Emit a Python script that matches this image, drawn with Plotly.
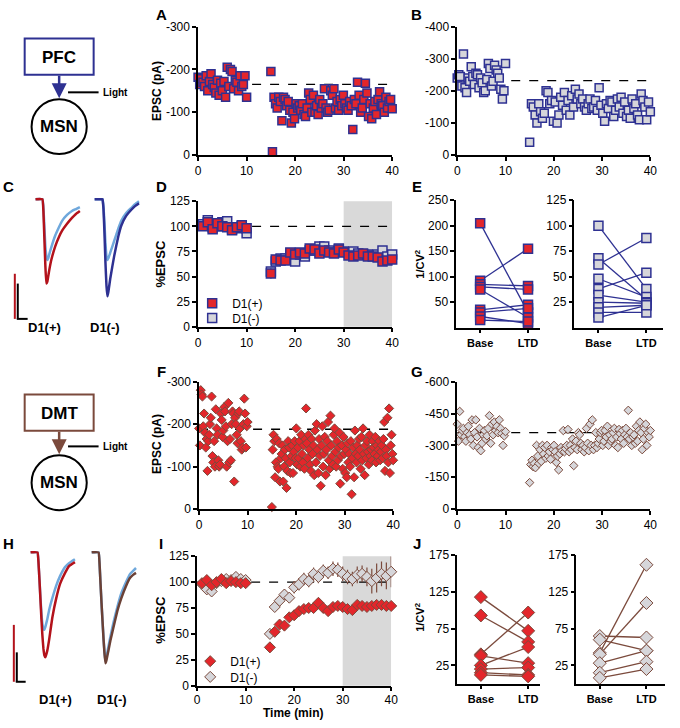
import plotly.graph_objects as go

W, H = 680, 728
RED = "#e3262b"
NAVY = "#2e3192"
GRAYF = "#d6d6da"
BROWN = "#7b4a3c"
TRACE_RED = "#b3121b"
TRACE_LB = "#6fa8dc"
TRACE_NAVY = "#2e3192"
TRACE_BROWN = "#6b4136"
FONT = "Liberation Sans, Arial, sans-serif"

# ---------------- data ----------------
A_BASE = [-182, -165, -178, -170, -160, -185, -150, -172, -190, -165, -158, -145, -175, -140, -168, -150,
          -172, -135, -205, -160, -200, -195, -155, -175, -170, -150, -185, -160, -165, -185, -135]
A_POST = [-195, -8, -135, -120, -110, -135, -125, -80, -135, -130, -115, -125, -105, -75, -100, -85, -120,
          -110, -115, -105, -120, -95, -90, -110, -145, -130, -100, -140, -100, -115, -95, -130, -110, -120,
          -155, -110, -100, -105, -150, -140, -155, -110, -125, -105, -130, -115, -140, -120, -110, -105,
          -125, -115, -60, -130, -120, -170, -140, -100, -110, -130, -168, -145, -90, -120, -85, -110, -125,
          -95, -130, -148, -120, -115, -100, -135, -110, -125, -130, -108]
A_LEVEL = -165

B_BASE = [-240, -250, -245, -215, -315, -210, -195, -240, -230, -275, -245, -220, -255, -250, -210, -240,
          -225, -195, -200, -235, -285, -270, -215, -230, -280, -265, -255, -240, -205, -175, -200, -285]
B_POST = [-40, -160, -150, -125, -100, -160, -135, -115, -130, -200, -195, -160, -170, -105, -165, -100,
          -125, -180, -155, -195, -140, -170, -125, -185, -150, -205, -175, -190, -160, -175, -150, -140,
          -160, -175, -145, -150, -170, -140, -210, -155, -130, -105, -160, -145, -170, -165, -120, -140,
          -175, -150, -180, -130, -165, -120, -140, -115, -175, -145, -160, -125, -110, -190, -170, -150,
          -110, -165, -135]
B_LEVEL = -232

BIN_BASE = [1, 2, 3, 4, 5, 6, 7, 8, 9, 10]
BIN_POST = [15, 16, 17, 18, 19, 20, 21, 22, 23, 24, 25, 26, 27, 28, 29, 30, 31, 32, 33, 34, 35, 36, 37, 38, 39, 40]

D_POS_BASE = [100, 104, 97, 103, 100, 99, 96, 99, 101, 98]
D_POS_BASE_ERR = [3, 3, 3, 3, 2, 2, 3, 2, 3, 3]
D_POS_POST = [53, 67, 66, 66, 74, 72, 74, 73, 78, 77, 73, 76, 74, 73, 77, 74, 71, 70, 71, 73, 70, 70, 69, 65, 66, 67]
D_POS_POST_ERR = [5, 5, 5, 4, 4, 4, 4, 4, 4, 4, 4, 4, 4, 4, 4, 4, 4, 4, 4, 4, 4, 4, 4, 4, 4, 4]
D_NEG_BASE = [102, 106, 99, 100, 104, 105, 97, 98, 100, 93]
D_NEG_BASE_ERR = [3, 3, 3, 3, 3, 3, 3, 3, 3, 3]
D_NEG_POST = [55, 65, 68, 68, 70, 65, 72, 70, 76, 76, 80, 80, 76, 74, 78, 75, 74, 75, 73, 72, 72, 71, 72, 76, 70, 72]
D_NEG_POST_ERR = [4, 4, 4, 4, 4, 4, 4, 4, 4, 4, 4, 4, 4, 4, 4, 4, 4, 4, 4, 4, 4, 4, 4, 4, 4, 4]

E_POS_BASE = [205, 92, 85, 80, 75, 35, 30, 22, 15]
E_POS_LTD = [30, 155, 82, 75, 20, 45, 38, 8, 12]
E_NEG_BASE = [100, 68, 62, 48, 38, 32, 25, 20, 15, 10]
E_NEG_LTD = [38, 28, 88, 30, 54, 25, 24, 22, 15, 22]
CATS = ["Base", "LTD"]

F_BASE = [-190, -150, -280, -270, -265, -195, -225, -180, -145, -165, -90, -160, -175, -200, -215, -265,
          -125, -110, -160, -100, -235, -190, -175, -115, -100, -105, -225, -210, -170, -185, -240, -230,
          -195, -100, -160, -250, -110, -165, -115, -200, -230, -225, -65, -215, -200, -175, -155, -225,
          -230, -190, -160, -140, -145, -200, -260, -225, -145, -195, -205]
F_POST = [-5, -140, -175, -160, -75, -110, -165, -100, -95, -155, -65, -120, -130, -150, -65, -100, -140,
          -120, -50, -90, -160, -145, -110, -85, -125, -150, -85, -135, -160, -120, -190, -105, -145, -120,
          -160, -100, -175, -130, -110, -150, -95, -165, -237, -155, -120, -175, -140, -105, -90, -165,
          -130, -150, -80, -185, -110, -200, -140, -85, -165, -125, -55, -150, -195, -100, -130, -170, -80,
          -140, -160, -205, -115, -95, -220, -150, -125, -105, -175, -190, -135, -100, -160, -115, -145,
          -180, -60, -125, -150, -95, -170, -130, -85, -140, -75, -155, -110, -130, -100, -160, -35, -120,
          -145, -75, -185, -130, -110, -150, -125, -165, -140, -95, -170, -115, -190, -130, -80, -150, -120,
          -160, -135, -105, -175, -125, -140, -115, -160, -145, -130, -170, -110, -150, -125, -140, -160,
          -115, -135, -150, -120, -165, -205, -90, -140, -125, -215, -110, -237, -85, -150, -175, -130, -115]
F_LEVEL = -188

G_BASE = [-400, -320, -460, -350, -370, -380, -340, -320, -360, -390, -350, -330, -420, -300, -360, -420,
          -340, -290, -380, -275, -310, -350, -370, -330, -345, -380, -440, -310, -400, -350, -410, -370,
          -390, -360, -420, -380, -355, -300, -345, -365]
G_POST = [-125, -210, -230, -200, -215, -195, -300, -250, -215, -280, -225, -300, -260, -290, -240, -300,
          -250, -270, -235, -290, -280, -300, -270, -220, -250, -185, -260, -290, -275, -370, -270, -285,
          -300, -375, -270, -300, -280, -330, -205, -290, -320, -280, -360, -350, -310, -280, -300, -270,
          -290, -380, -310, -275, -400, -300, -420, -280, -300, -360, -290, -310, -330, -360, -370, -300,
          -320, -370, -340, -390, -300, -350, -320, -330, -360, -380, -300, -340, -290, -375, -355, -330,
          -370, -310, -350, -380, -340, -465, -330, -360, -300, -340, -350, -310, -390, -320, -370, -410,
          -360, -280, -330, -380, -400, -300, -360, -340, -370]
G_LEVEL = -360

I_POS_BASE = [99, 102, 97, 100, 103, 99, 101, 100, 99, 99]
I_POS_BASE_ERR = [3, 3, 3, 3, 3, 3, 3, 3, 3, 3]
I_POS_POST = [37, 52, 59, 58, 66, 68, 72, 74, 75, 75, 80, 75, 72, 76, 77, 76, 74, 73, 78, 77, 76, 77, 78, 78, 77, 77]
I_POS_POST_ERR = [3, 3, 4, 4, 4, 4, 4, 4, 4, 4, 4, 4, 4, 4, 4, 4, 4, 4, 4, 4, 4, 4, 4, 4, 4, 4]
I_NEG_BASE = [98, 93, 91, 99, 101, 103, 102, 105, 103, 102]
I_NEG_BASE_ERR = [3, 4, 4, 3, 3, 3, 3, 3, 3, 3]
I_NEG_POST = [50, 76, 82, 88, 85, 95, 98, 103, 101, 108, 105, 111, 109, 113, 112, 108, 105, 103, 107, 108, 105, 101, 104, 108, 106, 110]
I_NEG_POST_ERR = [3, 4, 5, 5, 5, 6, 6, 6, 6, 6, 6, 6, 6, 7, 7, 7, 7, 7, 8, 8, 9, 12, 14, 12, 13, 15]

J_POS_BASE = [118, 93, 40, 38, 25, 20, 15, 12]
J_POS_LTD = [72, 57, 97, 28, 50, 22, 12, 10]
J_NEG_BASE = [65, 60, 42, 40, 28, 15, 8]
J_NEG_LTD = [63, 45, 162, 110, 45, 30, 20]

# example traces (time in ms, amplitude in pA)
C_T = [0, 7, 8, 9, 10, 11, 12, 13, 14, 16, 20, 24, 27, 32, 37, 41, 45]
C_POS_BASE = [0, 0, -12, -40, -68, -86, -84, -78, -72, -62, -48, -38, -32, -25, -19, -15, -12]
C_POS_LTD = [0, 0, -8, -28, -48, -58, -62, -60, -56, -49, -37, -28, -22, -16, -12, -10, -8]
C_NEG_BASE = [0, 0, 0, -10, -35, -65, -88, -99, -94, -80, -57, -38, -27, -17, -11, -7, -4]
C_NEG_LTD = [0, 0, 0, -8, -25, -45, -58, -62, -60, -54, -42, -30, -22, -14, -9, -5, -2]
H_T = [0, 7, 8, 9, 10, 11, 12, 13, 14, 15, 17, 19, 22, 26, 30, 35, 39, 42, 45]
H_POS_BASE = [0, 0, -10, -28, -48, -68, -85, -98, -105, -107, -100, -88, -67, -47, -32, -21, -14, -12, -10]
H_POS_LTD = [0, 0, -10, -28, -46, -62, -73, -78, -79, -76, -68, -58, -47, -34, -24, -15, -11, -9, -7]
H_NEG_BASE = [0, 0, -12, -32, -52, -70, -88, -103, -113, -110, -100, -90, -77, -60, -47, -34, -26, -23, -21]
H_NEG_LTD = [0, 0, -12, -32, -52, -70, -87, -102, -111, -107, -96, -86, -72, -56, -42, -30, -22, -19, -16]


def spread(vals, t0, t1):
    n = len(vals)
    return [t0 + (t1 - t0) * i / (n - 1) for i in range(n)]


def xd(a, b):
    return [a / W, b / W]


def yd(a, b):
    return [1 - b / H, 1 - a / H]


def px(x):
    return x / W


def py(y):
    return 1 - y / H


def axis(domain, rng, tickvals=None, ticktext=None, anchor=None, fsize=12):
    d = dict(domain=domain, range=rng, showline=True, linecolor="black", linewidth=1.5,
             ticks="outside", ticklen=4, tickwidth=1.5, tickcolor="black", showgrid=False,
             zeroline=False, anchor=anchor, fixedrange=True,
             tickfont=dict(size=fsize, family=FONT, color="black"))
    if tickvals is not None:
        d["tickvals"] = tickvals
        d["ticktext"] = ticktext if ticktext is not None else [str(v) for v in tickvals]
    return d


def hidden(domain, rng, anchor):
    return dict(domain=domain, range=rng, visible=False, anchor=anchor, fixedrange=True)


fig = go.Figure()

sq_red = dict(symbol="square", size=8, color=RED, line=dict(color=NAVY, width=1.5))
sq_gray = dict(symbol="square", size=8, color=GRAYF, line=dict(color=NAVY, width=1.5))
di_red = dict(symbol="diamond", size=7, color=RED, line=dict(color=BROWN, width=1))
di_gray = dict(symbol="diamond", size=7, color=GRAYF, line=dict(color=BROWN, width=1))


def scat(x, y, marker, xa, ya):
    fig.add_trace(go.Scatter(x=x, y=y, mode="markers", marker=marker, xaxis=xa, yaxis=ya,
                             cliponaxis=False, showlegend=False))


# A
scat(spread(A_BASE, 0, 10) + spread(A_POST, 15, 40), A_BASE + A_POST, sq_red, "x", "y")
# B
scat(spread(B_BASE, 0, 10) + spread(B_POST, 15, 40), B_BASE + B_POST, sq_gray, "x2", "y2")


def errtrace(x, y, e, marker, xa, ya, ecol, name, legend):
    fig.add_trace(go.Scatter(x=x, y=y, mode="markers", marker=marker, xaxis=xa, yaxis=ya,
                             error_y=dict(type="data", array=e, color=ecol, thickness=1.2, width=0),
                             cliponaxis=False, name=name, showlegend=True, legend=legend))


# D
sq_red_d = dict(sq_red, size=9)
sq_gray_d = dict(sq_gray, size=9)
errtrace(BIN_BASE + BIN_POST, D_NEG_BASE + D_NEG_POST, D_NEG_BASE_ERR + D_NEG_POST_ERR,
         sq_gray_d, "x3", "y3", "#333333", "D1(-)", "legend3")
errtrace(BIN_BASE + BIN_POST, D_POS_BASE + D_POS_POST, D_POS_BASE_ERR + D_POS_POST_ERR,
         sq_red_d, "x3", "y3", "#333333", "D1(+)", "legend")


def pairs(base, ltd, marker, lcol, xa, ya):
    xs, ys = [], []
    for b, l in zip(base, ltd):
        xs += [CATS[0], CATS[1], None]
        ys += [b, l, None]
    fig.add_trace(go.Scatter(x=xs, y=ys, mode="lines", line=dict(color=lcol, width=1.3),
                             xaxis=xa, yaxis=ya, showlegend=False, cliponaxis=False))
    fig.add_trace(go.Scatter(x=[CATS[0]] * len(base) + [CATS[1]] * len(ltd), y=base + ltd,
                             mode="markers", marker=marker, xaxis=xa, yaxis=ya,
                             showlegend=False, cliponaxis=False))


pairs(E_POS_BASE, E_POS_LTD, sq_red_d, NAVY, "x4", "y4")
pairs(E_NEG_BASE, E_NEG_LTD, sq_gray_d, NAVY, "x5", "y5")

# F, G
scat(spread(F_BASE, 0, 10) + spread(F_POST, 15, 40), F_BASE + F_POST, di_red, "x6", "y6")
scat(spread(G_BASE, 0, 10) + spread(G_POST, 15, 40), G_BASE + G_POST, dict(di_gray, size=6.5), "x7", "y7")

# I
di_red_i = dict(di_red, size=8.5)
di_gray_i = dict(di_gray, size=8.5)
errtrace(BIN_BASE + BIN_POST, I_NEG_BASE + I_NEG_POST, I_NEG_BASE_ERR + I_NEG_POST_ERR,
         di_gray_i, "x8", "y8", BROWN, "D1(-)", "legend4")
errtrace(BIN_BASE + BIN_POST, I_POS_BASE + I_POS_POST, I_POS_BASE_ERR + I_POS_POST_ERR,
         di_red_i, "x8", "y8", BROWN, "D1(+)", "legend2")

# J
di_red_j = dict(di_red, size=10)
di_gray_j = dict(di_gray, size=10)
pairs(J_POS_BASE, J_POS_LTD, di_red_j, BROWN, "x9", "y9")
pairs(J_NEG_BASE, J_NEG_LTD, di_gray_j, BROWN, "x10", "y10")


# example traces
def wave(t, v, off, col, xa, ya):
    fig.add_trace(go.Scatter(x=[ti + off for ti in t], y=v, mode="lines",
                             line=dict(color=col, width=2.5, shape="spline", smoothing=0.3),
                             xaxis=xa, yaxis=ya, showlegend=False, hoverinfo="skip"))


wave(C_T, C_POS_LTD, 0, TRACE_LB, "x11", "y11")
wave(C_T, C_POS_BASE, 0, TRACE_RED, "x11", "y11")
wave(C_T, C_NEG_LTD, 60, TRACE_LB, "x11", "y11")
wave(C_T, C_NEG_BASE, 60, TRACE_NAVY, "x11", "y11")
wave(H_T, H_POS_LTD, 0, TRACE_LB, "x12", "y12")
wave(H_T, H_POS_BASE, 0, TRACE_RED, "x12", "y12")
wave(H_T, H_NEG_LTD, 62, TRACE_LB, "x12", "y12")
wave(H_T, H_NEG_BASE, 62, TRACE_BROWN, "x12", "y12")

TV_T = [0, 10, 20, 30, 40]


def neg(vals):
    return [str(v) if v == 0 else "-" + str(-v) for v in vals]


def leg(x, y):
    return dict(x=px(x), y=py(y), xanchor="left", yanchor="middle", bgcolor="rgba(0,0,0,0)",
                font=dict(size=12, family=FONT, color="black"), itemwidth=30, borderwidth=0)


xaxis8 = axis(xd(197, 394), [0, 40], TV_T, anchor="y8")
xaxis8["ticklabelstandoff"] = -2

lay = dict(
    width=W, height=H, margin=dict(l=0, r=0, t=0, b=0),
    paper_bgcolor="white", plot_bgcolor="rgba(0,0,0,0)",
    font=dict(family=FONT, color="black", size=12),
    xaxis=axis(xd(198, 395), [0, 40], TV_T, anchor="y"),
    yaxis=axis(yd(20, 151), [0, -300], [-300, -200, -100, 0], neg([-300, -200, -100, 0]), anchor="x"),
    xaxis2=axis(xd(461, 657), [0, 40], TV_T, anchor="y2"),
    yaxis2=axis(yd(20, 151), [0, -400], [-400, -300, -200, -100, 0], neg([-400, -300, -200, -100, 0]), anchor="x2"),
    xaxis3=axis(xd(198, 395), [0, 40], TV_T, anchor="y3"),
    yaxis3=axis(yd(198, 326), [0, 125], [0, 25, 50, 75, 100, 125], anchor="x3"),
    xaxis4=axis(xd(460, 545), [-0.5, 1.25], [0, 1], ["<b>Base</b>", "<b>LTD</b>"], anchor="y4", fsize=11),
    yaxis4=axis(yd(197, 327), [0, 250], [50, 100, 150, 200, 250], anchor="x4"),
    xaxis5=axis(xd(580, 670), [-0.5, 1.35], [0, 1], ["<b>Base</b>", "<b>LTD</b>"], anchor="y5", fsize=11),
    yaxis5=axis(yd(197, 327), [0, 125], [25, 50, 75, 100, 125], anchor="x5"),
    xaxis6=axis(xd(199, 396), [0, 40], TV_T, anchor="y6"),
    yaxis6=axis(yd(382, 512), [0, -300], [-300, -200, -100, 0], neg([-300, -200, -100, 0]), anchor="x6"),
    xaxis7=axis(xd(461, 657), [0, 40], TV_T, anchor="y7"),
    yaxis7=axis(yd(382, 512), [0, -600], [-600, -450, -300, -150, 0], neg([-600, -450, -300, -150, 0]), anchor="x7"),
    xaxis8=xaxis8,
    yaxis8=axis(yd(560, 692), [0, 125], [0, 25, 50, 75, 100, 125], anchor="x8"),
    xaxis9=axis(xd(461, 545), [-0.5, 1.25], [0, 1], ["<b>Base</b>", "<b>LTD</b>"], anchor="y9", fsize=11),
    yaxis9=axis(yd(559, 690), [0, 175], [25, 75, 125, 175], anchor="x9"),
    xaxis10=axis(xd(582, 672), [-0.5, 1.4], [0, 1], ["<b>Base</b>", "<b>LTD</b>"], anchor="y10", fsize=11),
    yaxis10=axis(yd(559, 690), [0, 175], [25, 75, 125, 175], anchor="x10"),
    xaxis11=hidden(xd(0, 140), [-33, 107], "y11"),
    yaxis11=hidden(yd(185, 320), [-124, 11], "x11"),
    xaxis12=hidden(xd(0, 140), [-28, 112], "y12"),
    yaxis12=hidden(yd(545, 700), [-144, 11], "x12"),
    legend=leg(192, 302),
    legend3=leg(192, 317),
    legend2=leg(190, 667),
    legend4=leg(190, 683),
)

shapes = []
for xa, ya in [("x3", "y3"), ("x8", "y8")]:
    shapes.append(dict(type="rect", xref=xa, yref=ya + " domain", x0=30, x1=40, y0=0, y1=1,
                       fillcolor="#d9d9d9", line=dict(width=0), layer="below"))
for xa, ya, lv in [("x", "y", A_LEVEL), ("x2", "y2", B_LEVEL), ("x3", "y3", 100), ("x6", "y6", F_LEVEL),
                   ("x7", "y7", G_LEVEL), ("x8", "y8", 100)]:
    shapes.append(dict(type="line", xref=xa, yref=ya, x0=0, x1=40, y0=lv, y1=lv,
                       line=dict(color="black", width=1.3, dash="dash"), layer="below"))


def pline(x0, y0, x1, y1, col, w):
    shapes.append(dict(type="line", xref="paper", yref="paper", x0=px(x0), x1=px(x1), y0=py(y0), y1=py(y1),
                       line=dict(color=col, width=w)))


for (top, bot, col, cy) in [(32, 69, NAVY, 122), (395, 432, BROWN, 485)]:
    shapes.append(dict(type="rect", xref="paper", yref="paper", x0=px(22), x1=px(92), y0=py(bot), y1=py(top),
                       line=dict(color=col, width=2)))
    shapes.append(dict(type="circle", xref="paper", yref="paper", x0=px(29), x1=px(85), y0=py(cy + 28),
                       y1=py(cy - 28), line=dict(color="black", width=2)))
pline(66, 87, 97, 87, "black", 2)
pline(66, 448, 97, 448, "black", 2)
pline(12, 272, 12, 318, TRACE_RED, 2)
pline(15, 282, 15, 318, "black", 2)
pline(14, 318, 25, 318, "black", 2)
pline(11, 630, 11, 688, TRACE_RED, 2)
pline(14, 658, 14, 688, "black", 2)
pline(13, 688, 23, 688, "black", 2)
lay["shapes"] = shapes

ann = []


def text(x, y, s, size=12, bold=True, angle=0, xanchor="center"):
    ann.append(dict(x=px(x), y=py(y), xref="paper", yref="paper", text=("<b>%s</b>" % s) if bold else s,
                    showarrow=False, font=dict(size=size, family=FONT, color="black"), textangle=angle,
                    xanchor=xanchor, yanchor="middle"))


for lbl, x, y in [("A", 161, 8), ("B", 420, 8), ("C", 6, 183), ("D", 161, 183), ("E", 420, 183),
                  ("F", 161, 372), ("G", 420, 372), ("H", 6, 547), ("I", 160, 547), ("J", 420, 547)]:
    text(x, y, lbl, size=15)

text(157, 86, "EPSC (pA)", 12, angle=-90)
text(160, 262, "%EPSC", 13, angle=-90)
text(423, 262, "1/CV<sup>2</sup>", 11, angle=-90)
text(157, 446, "EPSC (pA)", 12, angle=-90)
text(160, 625, "%EPSC", 13, angle=-90)
text(423, 622, "1/CV<sup>2</sup>", 11, angle=-90)
ann.append(dict(x=px(294), y=py(728), xref="paper", yref="paper", text="<b>Time (min)</b>",
                showarrow=False, font=dict(size=12, family=FONT, color="black"),
                xanchor="center", yanchor="bottom", borderpad=0))

text(57, 51, "PFC", 17)
text(57, 122, "MSN", 17)
text(57, 414, "DMT", 17)
text(57, 485, "MSN", 17)
text(99, 87, "Light", 10, xanchor="left")
text(99, 448, "Light", 10, xanchor="left")
text(42, 327, "D1(+)", 13)
text(104, 327, "D1(-)", 13)
text(53, 706, "D1(+)", 13)
text(111, 706, "D1(-)", 13)

for y_tip, y_tail, col in [(93, 69, NAVY), (456, 432, BROWN)]:
    ann.append(dict(x=px(57), y=py(y_tip), ax=0, ay=-(y_tip - y_tail), xref="paper", yref="paper",
                    text="", showarrow=True, arrowhead=2, arrowsize=1.2, arrowwidth=2.5, arrowcolor=col))
lay["annotations"] = ann

fig.update_layout(**lay)
fig.write_html("out.html", config={"displayModeBar": False},
               post_script="document.body.style.margin='0px';")
